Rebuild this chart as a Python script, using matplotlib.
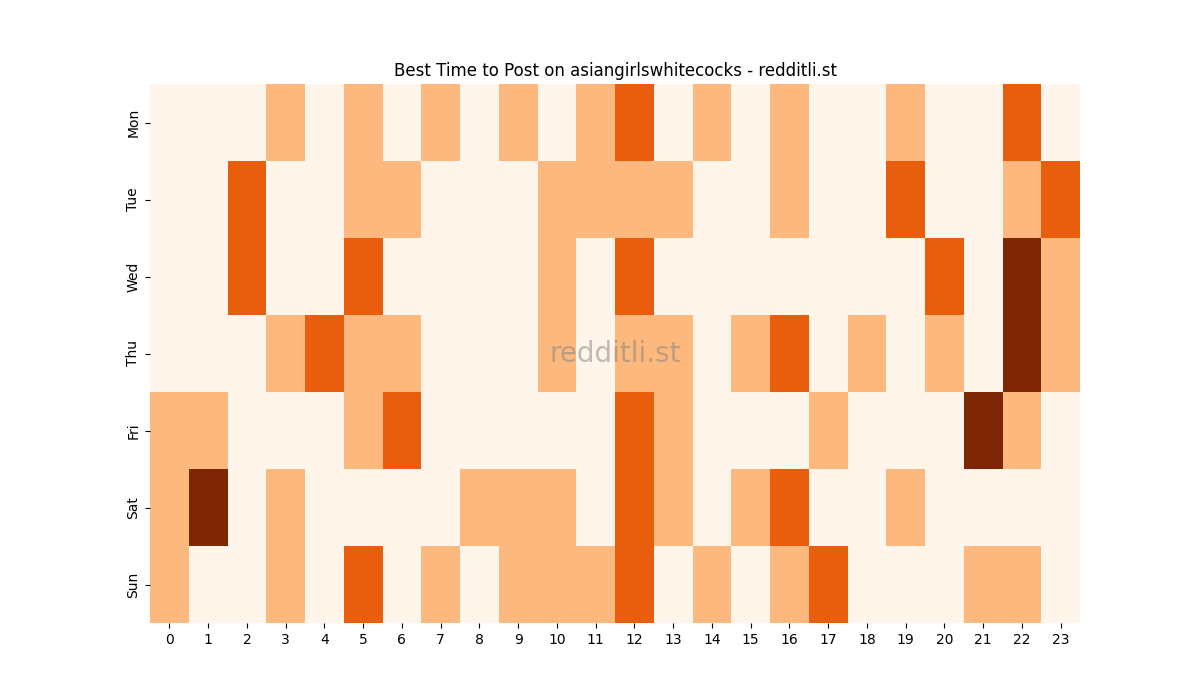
import matplotlib
matplotlib.use('Agg')
import matplotlib.pyplot as plt
import seaborn as sns
import pandas as pd

days = ['Mon', 'Tue', 'Wed', 'Thu', 'Fri', 'Sat', 'Sun']
hours = list(range(24))

# post score per day/hour (0-3)
mon = [0, 0, 0, 1, 0, 1, 0, 1, 0, 1, 0, 1, 2, 0, 1, 0, 1, 0, 0, 1, 0, 0, 2, 0]
tue = [0, 0, 2, 0, 0, 1, 1, 0, 0, 0, 1, 1, 1, 1, 0, 0, 1, 0, 0, 2, 0, 0, 1, 2]
wed = [0, 0, 2, 0, 0, 2, 0, 0, 0, 0, 1, 0, 2, 0, 0, 0, 0, 0, 0, 0, 2, 0, 3, 1]
thu = [0, 0, 0, 1, 2, 1, 1, 0, 0, 0, 1, 0, 1, 1, 0, 1, 2, 0, 1, 0, 1, 0, 3, 1]
fri = [1, 1, 0, 0, 0, 1, 2, 0, 0, 0, 0, 0, 2, 1, 0, 0, 0, 1, 0, 0, 0, 3, 1, 0]
sat = [1, 3, 0, 1, 0, 0, 0, 0, 1, 1, 1, 0, 2, 1, 0, 1, 2, 0, 0, 1, 0, 0, 0, 0]
sun = [1, 0, 0, 1, 0, 2, 0, 1, 0, 1, 1, 1, 2, 0, 1, 0, 1, 2, 0, 0, 0, 1, 1, 0]

df = pd.DataFrame([mon, tue, wed, thu, fri, sat, sun], index=days, columns=hours)

fig, ax = plt.subplots(figsize=(12, 7), dpi=100)
sns.heatmap(df, cmap='Oranges', cbar=False, vmin=0, vmax=3, ax=ax)
ax.set_title('Best Time to Post on asiangirlswhitecocks - redditli.st')
ax.set_xlabel('')
ax.set_ylabel('')
ax.text(0.5, 0.5, 'redditli.st', transform=ax.transAxes, ha='center', va='center',
        fontsize=20, color='gray', alpha=0.5)

fig.savefig('out.png')
